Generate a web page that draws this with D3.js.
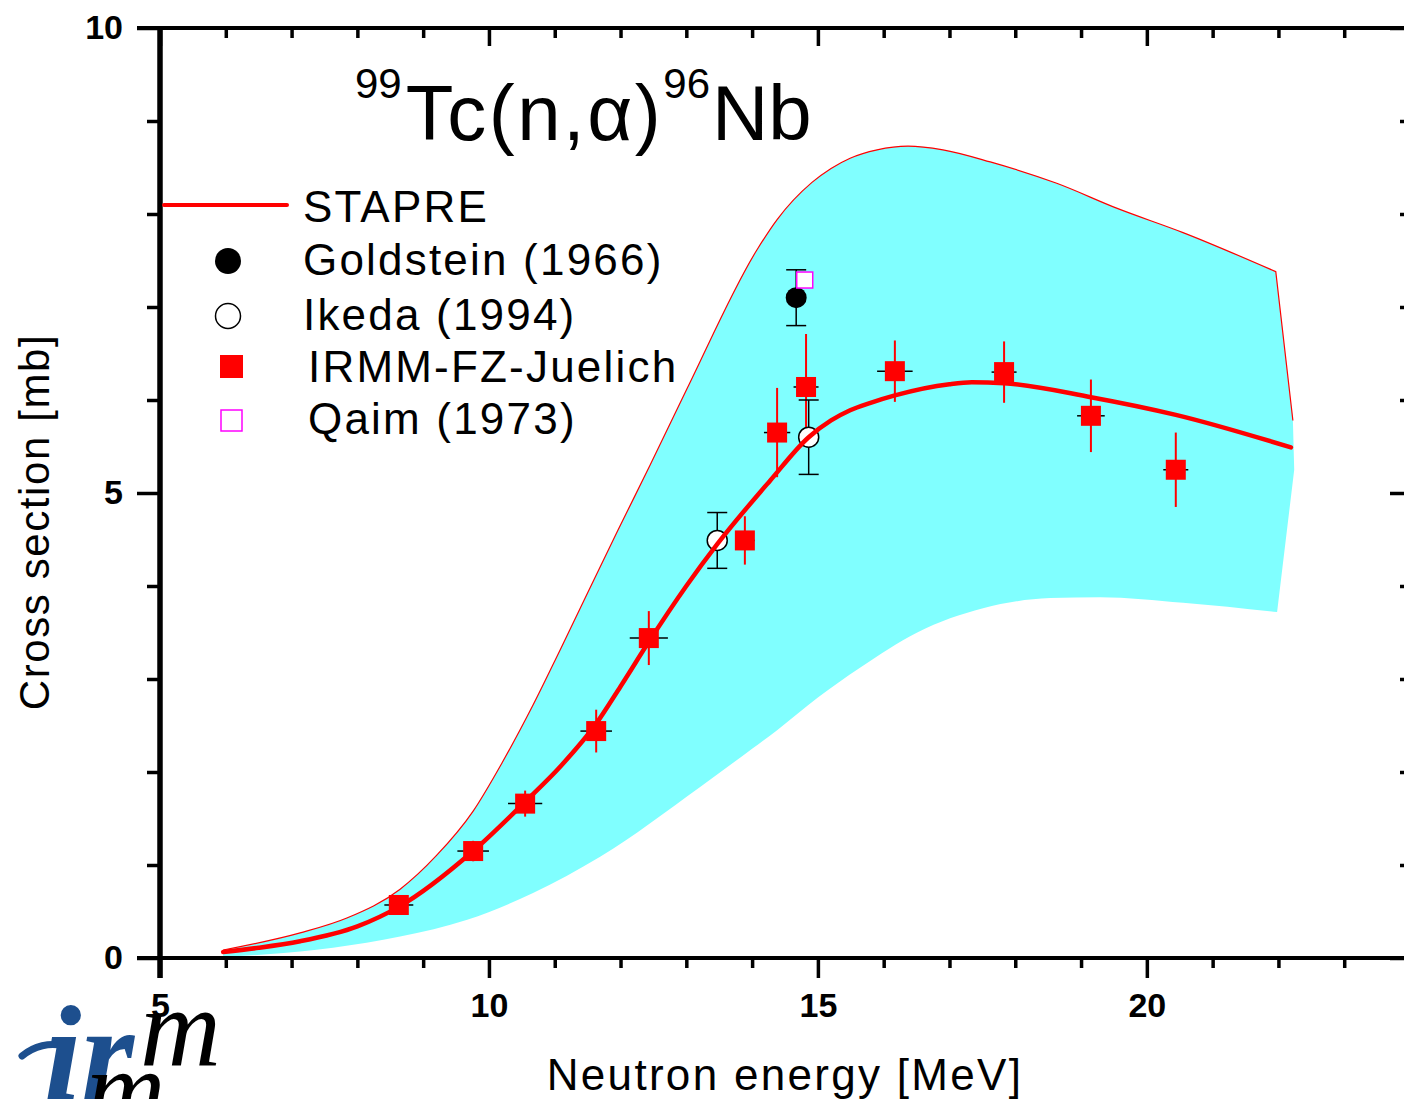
<!DOCTYPE html>
<html><head><meta charset="utf-8">
<script src="https://cdn.jsdelivr.net/npm/d3@7"></script>
<style>body{margin:0;background:#fff}svg{display:block}</style>
</head><body>
<svg id="c" width="1404" height="1099"></svg>
<script>
// ---- data ----
const stapreE = [5.96,6.5,7.13,8.0,8.63,9.76,10.55,11.1,11.63,12.0,12.43,13.0,13.47,14.27,14.86,15.2,15.49,15.8,16.17,17.0,17.34,17.83,19.15,20.44,22.19];
const stapreV = [0.065,0.11,0.18,0.34,0.55,1.15,1.68,2.07,2.52,2.92,3.40,4.00,4.45,5.13,5.60,5.78,5.89,5.97,6.05,6.17,6.19,6.18,6.03,5.84,5.49];
const upperE = [5.96,7.13,7.84,8.65,9.2,9.76,10.2,10.67,11.08,11.96,12.45,13.01,14.07,14.38,14.91,15.2,15.49,15.90,16.37,16.90,17.62,18.63,19.55,20.55,21.96,22.22];
const upperV = [0.086,0.27,0.43,0.74,1.10,1.58,2.10,2.72,3.31,4.60,5.30,6.12,7.61,7.94,8.34,8.49,8.60,8.69,8.73,8.69,8.56,8.33,8.06,7.80,7.38,5.78];
const edgeE = [22.24];
const edgeV = [5.25];
const lowerE = [5.96,6.63,7.63,8.65,9.67,10.67,11.69,13.21,14.0,14.38,15.0,15.64,16.51,17.51,18.53,19.29,20.55,21.98];
const lowerV = [0.01,0.04,0.11,0.23,0.41,0.70,1.09,1.84,2.25,2.45,2.80,3.12,3.50,3.76,3.87,3.88,3.82,3.72];
const irmmE  = [8.63,9.76,10.55,11.63,12.43,13.89,14.38,14.82,16.17,17.83,19.15,20.44];
const irmmV  = [0.57,1.15,1.66,2.44,3.44,4.49,5.65,6.14,6.31,6.30,5.83,5.25];
const irmmDE = [0.22,0.24,0.26,0.24,0.29,0.15,0.20,0.19,0.27,0.19,0.21,0.19];
const irmmDV = [0.08,0.11,0.14,0.23,0.29,0.26,0.48,0.57,0.33,0.33,0.39,0.40];
const goldE = [14.67], goldV = [7.10], goldDV = [0.30];
const ikedaE = [13.47,14.86], ikedaV = [4.49,5.60], ikedaDV = [0.30,0.40];
const qaimE = [14.80], qaimV = [7.29];
const xMajor = [5,10,15,20];
const xMinor = [6,7,8,9,11,12,13,14,16,17,18,19,21,22,23];
const yMajor = [0,5,10];
const yMinor = [1,2,3,4,6,7,8,9];
const legendLabels = ["STAPRE","Goldstein (1966)","Ikeda (1994)","IRMM-FZ-Juelich","Qaim (1973)"];

// ---- setup ----
const svg = d3.select("#c");
const FONT = "'Liberation Sans', Arial, sans-serif";
const x = d3.scaleLinear().domain([5,24]).range([160,1410]);
const y = d3.scaleLinear().domain([0,10]).range([958,28]);
const zip = (a,b)=>a.map((v,i)=>[v,b[i]]);

// ---- band ----
const mono = d3.line().x(d=>x(d[0])).y(d=>y(d[1])).curve(d3.curveMonotoneX);
const lin = d3.line().x(d=>x(d[0])).y(d=>y(d[1]));
const up = zip(upperE,upperV);
const upCurve = up.slice(0, up.length-1);
const upLast = up[up.length-1];
const low = zip(lowerE,lowerV).reverse();
const edge = zip(edgeE,edgeV);
const tail = (p)=>p.replace(/^M[^LC]*/,'');
const bandPath = mono(upCurve) + tail(lin([upCurve[upCurve.length-1], upLast, ...edge, low[0]])) + mono(low).replace(/^M/,'L') + 'Z';
svg.append("path").attr("d",bandPath).attr("fill","#80ffff").attr("stroke","none");
svg.append("path").attr("d", mono(upCurve) + tail(lin([upCurve[upCurve.length-1], upLast])))
  .attr("fill","none").attr("stroke","#ff0000").attr("stroke-width",1.2);

// ---- IRMM error bars & markers ----
const irmm = irmmE.map((e,i)=>({e,v:irmmV[i],de:irmmDE[i],dv:irmmDV[i]}));
const gI = svg.append("g");
gI.selectAll("line.h").data(irmm).join("line")
  .attr("x1",d=>x(d.e-d.de)).attr("x2",d=>x(d.e+d.de)).attr("y1",d=>y(d.v)).attr("y2",d=>y(d.v))
  .attr("stroke","#000").attr("stroke-width",1.5);
gI.selectAll("line.v").data(irmm).join("line")
  .attr("x1",d=>x(d.e)).attr("x2",d=>x(d.e)).attr("y1",d=>y(d.v-d.dv)).attr("y2",d=>y(d.v+d.dv))
  .attr("stroke","#ff0000").attr("stroke-width",2);
gI.selectAll("rect").data(irmm).join("rect")
  .attr("x",d=>x(d.e)-10).attr("y",d=>y(d.v)-10).attr("width",20).attr("height",20).attr("fill","#ff0000");

// ---- capped black error bars ----
function capped(E,V,DV){
  const g = svg.append("g").attr("stroke","#000").attr("stroke-width",1.5);
  E.forEach((e,i)=>{
    const xx=x(e), y1=y(V[i]-DV[i]), y2=y(V[i]+DV[i]);
    g.append("line").attr("x1",xx).attr("x2",xx).attr("y1",y1).attr("y2",y2);
    g.append("line").attr("x1",xx-10).attr("x2",xx+10).attr("y1",y1).attr("y2",y1);
    g.append("line").attr("x1",xx-10).attr("x2",xx+10).attr("y1",y2).attr("y2",y2);
  });
}
capped(goldE,goldV,goldDV);
capped(ikedaE,ikedaV,ikedaDV);
svg.selectAll("circle.g").data(zip(goldE,goldV)).join("circle").attr("class","g")
  .attr("cx",d=>x(d[0])).attr("cy",d=>y(d[1])).attr("r",10.5).attr("fill","#000");
svg.selectAll("circle.ik").data(zip(ikedaE,ikedaV)).join("circle").attr("class","ik")
  .attr("cx",d=>x(d[0])).attr("cy",d=>y(d[1])).attr("r",10).attr("fill","#fff").attr("stroke","#000").attr("stroke-width",1.5);
svg.selectAll("rect.q").data(zip(qaimE,qaimV)).join("rect").attr("class","q")
  .attr("x",d=>x(d[0])-8).attr("y",d=>y(d[1])-8).attr("width",16).attr("height",16)
  .attr("fill","#fff").attr("stroke","#ff00ff").attr("stroke-width",1.5);

// ---- STAPRE curve ----
svg.append("path").attr("d", mono(zip(stapreE,stapreV)))
  .attr("fill","none").attr("stroke","#ff0000").attr("stroke-width",4.5).attr("stroke-linecap","round");

// ---- axes ----
function styleAxis(g){ g.select(".domain").remove(); g.selectAll("line").attr("stroke","#000").attr("stroke-width",3.5); }
svg.append("g").attr("transform","translate(160,0)").call(d3.axisLeft(y).tickValues(yMajor).tickSize(23).tickPadding(14).tickFormat(d3.format("d")))
  .call(styleAxis).call(g=>g.selectAll("text").attr("font-family",FONT).attr("font-weight","bold").attr("font-size",34).attr("fill","#000"));
svg.append("g").attr("transform","translate(160,0)").call(d3.axisLeft(y).tickValues(yMinor).tickSize(13).tickFormat(""))
  .call(styleAxis);
svg.append("g").attr("transform","translate(1410,0)").call(d3.axisLeft(y).tickValues(yMajor).tickSize(20).tickFormat(""))
  .call(styleAxis);
svg.append("g").attr("transform","translate(1410,0)").call(d3.axisLeft(y).tickValues(yMinor).tickSize(10).tickFormat(""))
  .call(styleAxis);
svg.append("g").attr("transform","translate(0,958)").call(d3.axisBottom(x).tickValues(xMajor).tickSize(20).tickPadding(15).tickFormat(d3.format("d")))
  .call(styleAxis).call(g=>g.selectAll("text").attr("font-family",FONT).attr("font-weight","bold").attr("font-size",34).attr("fill","#000"));
svg.append("g").attr("transform","translate(0,958)").call(d3.axisBottom(x).tickValues(xMinor).tickSize(10).tickFormat(""))
  .call(styleAxis);
svg.append("g").attr("transform","translate(0,28)").call(d3.axisBottom(x).tickValues(xMajor).tickSize(18).tickFormat(""))
  .call(styleAxis);
svg.append("g").attr("transform","translate(0,28)").call(d3.axisBottom(x).tickValues(xMinor).tickSize(10).tickFormat(""))
  .call(styleAxis);
// axis lines
svg.append("line").attr("x1",137).attr("x2",1410).attr("y1",28).attr("y2",28).attr("stroke","#000").attr("stroke-width",4);
svg.append("line").attr("x1",137).attr("x2",1410).attr("y1",958).attr("y2",958).attr("stroke","#000").attr("stroke-width",4);
svg.append("line").attr("x1",160).attr("x2",160).attr("y1",26).attr("y2",978).attr("stroke","#000").attr("stroke-width",5.5);
svg.append("line").attr("x1",1410).attr("x2",1410).attr("y1",26).attr("y2",960).attr("stroke","#000").attr("stroke-width",4);

// ---- axis titles ----
svg.append("text").attr("transform","translate(49,522) rotate(-90)").attr("text-anchor","middle")
  .attr("font-family",FONT).attr("font-size",42).attr("letter-spacing",1.6).text("Cross section [mb]");
svg.append("text").attr("x",785).attr("y",1090).attr("text-anchor","middle")
  .attr("font-family",FONT).attr("font-size",44).attr("letter-spacing",2.3).text("Neutron energy [MeV]");

// ---- title ----
const t = svg.append("text").attr("x",355).attr("y",140).attr("font-family",FONT).attr("fill","#000");
t.append("tspan").attr("font-size",42).attr("dy",-42).text("99");
t.append("tspan").attr("font-size",78).attr("dy",42).attr("dx",4).attr("letter-spacing",2.5).text("Tc(n,α)");
t.append("tspan").attr("font-size",42).attr("dy",-42).text("96");
t.append("tspan").attr("font-size",78).attr("dy",42).attr("dx",2).text("Nb");

// ---- legend ----
const lg = svg.append("g").attr("font-family",FONT).attr("font-size",44).attr("letter-spacing",2.2);
svg.append("line").attr("x1",164).attr("x2",287).attr("y1",205).attr("y2",205).attr("stroke","#ff0000").attr("stroke-width",4).attr("stroke-linecap","round");
svg.append("circle").attr("cx",228).attr("cy",261).attr("r",13).attr("fill","#000");
svg.append("circle").attr("cx",228).attr("cy",316).attr("r",12.5).attr("fill","#fff").attr("stroke","#000").attr("stroke-width",1.5);
svg.append("rect").attr("x",220).attr("y",355).attr("width",23).attr("height",23).attr("fill","#ff0000");
svg.append("rect").attr("x",221).attr("y",410).attr("width",21).attr("height",21).attr("fill","#fff").attr("stroke","#ff00ff").attr("stroke-width",1.5);
const lx = [303,303,303,308,308], ly = [222,275,330,382,434];
legendLabels.forEach((s,i)=>lg.append("text").attr("x",lx[i]).attr("y",ly[i]).text(s));

// ---- logo ----
const logo = svg.append("g").attr("font-family","'Liberation Serif', 'DejaVu Serif', serif").attr("font-style","italic");
logo.append("path").attr("d","M22,1056 C34,1046 50,1042 64,1046").attr("fill","none").attr("stroke","#1d4f8e").attr("stroke-width",7).attr("stroke-linecap","round");
logo.append("text").attr("x",44).attr("y",1099).attr("font-size",135).attr("fill","#1d4f8e").attr("font-weight","bold").text("ir");
logo.append("text").attr("x",140).attr("y",1066).attr("font-size",112).attr("fill","#000").text("m");
logo.append("text").attr("x",86).attr("y",1126).attr("font-size",110).attr("fill","#000").text("m");
</script>
</body></html>
